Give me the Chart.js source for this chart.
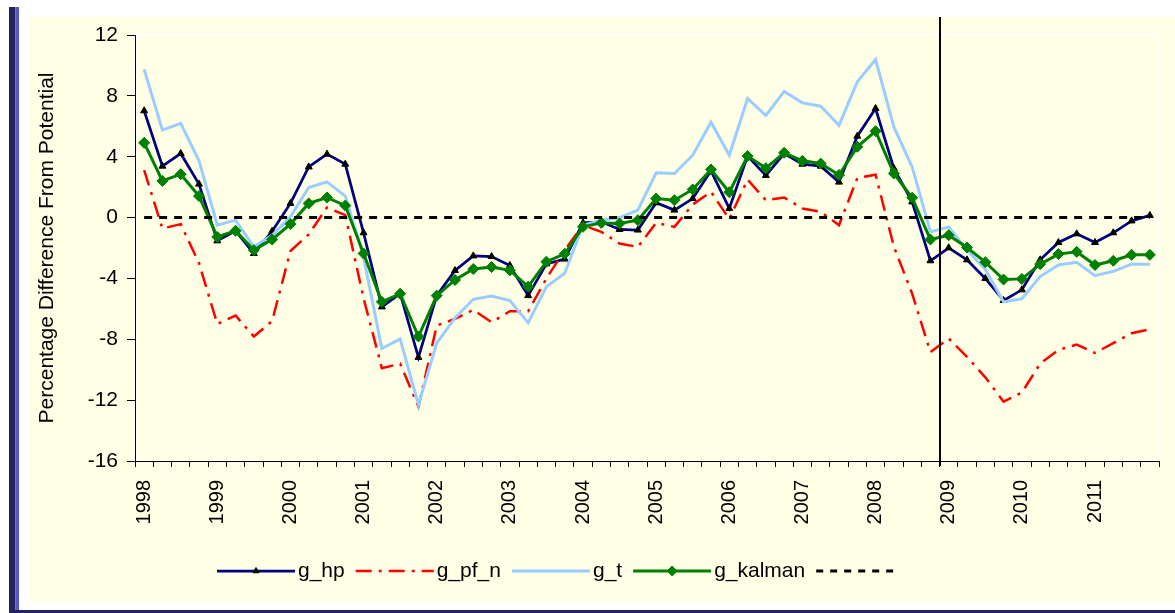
<!DOCTYPE html>
<html>
<head>
<meta charset="utf-8">
<script src="https://cdn.jsdelivr.net/npm/chart.js@4.4.1/dist/chart.umd.min.js"></script>
<style>
  html, body { margin: 0; padding: 0; background: #ffffff; }
  #wrap { position: relative; width: 1175px; height: 613px; }
</style>
</head>
<body>
<div id="wrap"><canvas id="c"></canvas></div>
<script>
// ---- Data (quarterly, 1998Q1 - 2011Q4) ----
const years = ['1998','1999','2000','2001','2002','2003','2004','2005','2006','2007','2008','2009','2010','2011'];
const quarters = [];
years.forEach(y => { for (let q = 1; q <= 4; q++) quarters.push(y + 'Q' + q); });

const g_hp = [
  7.02, 3.38, 4.21, 2.2, -1.53, -0.87, -2.36, -0.9, 0.93, 3.33, 4.17, 3.51, -1.0, -5.87,
  -5.0, -9.19, -5.13, -3.48, -2.52, -2.56, -3.15, -5.13, -3.04, -2.73, -0.35, -0.28, -0.78, -0.82,
  0.97, 0.49, 1.25, 3.07, 0.6, 4.04, 2.77, 4.21, 3.51, 3.38, 2.33, 5.35, 7.17, 3.23,
  1.03, -2.84, -1.99, -2.78, -4.0, -5.45, -4.75, -2.78, -1.64, -1.07, -1.64, -1.0, -0.22, 0.14
];
const g_pf_n = [
  3.12, -0.72, -0.43, -3.0, -6.99, -6.44, -7.82, -6.8, -2.2, -1.1, 0.66, 0.16, -5.3, -9.9,
  -9.6, -12.43, -7.1, -6.66, -6.07, -6.88, -6.16, -6.16, -4.0, -2.14, -0.5, -0.94, -1.71, -1.93,
  -0.35, -0.61, 0.86, 1.69, -0.1, 2.5, 1.14, 1.32, 0.6, 0.38, -0.5, 2.6, 2.82, -1.9,
  -5.0, -8.85, -7.95, -9.15, -10.5, -12.1, -11.5, -9.6, -8.7, -8.35, -8.9, -8.25, -7.6, -7.35
];
const g_t = [
  9.74, 5.75, 6.19, 3.73, -0.5, -0.17, -1.92, -1.16, 0.05, 1.98, 2.35, 1.41, -2.6, -8.61,
  -7.97, -12.3, -8.26, -6.6, -5.37, -5.15, -5.46, -6.92, -4.54, -3.66, -0.5, -0.17, 0.0, 0.49,
  2.94, 2.9, 4.1, 6.27, 4.1, 7.83, 6.71, 8.29, 7.54, 7.32, 6.07, 8.92, 10.39, 5.96,
  3.33, -0.94, -0.61, -2.14, -3.4, -5.54, -5.34, -3.88, -3.12, -2.94, -3.82, -3.53, -3.06, -3.06
];
const g_kalman = [
  4.91, 2.41, 2.85, 1.41, -1.27, -0.87, -2.14, -1.44, -0.43, 0.93, 1.32, 0.79, -2.36, -5.54,
  -5.0, -7.82, -5.13, -4.1, -3.38, -3.25, -3.47, -4.54, -2.9, -2.38, -0.61, -0.35, -0.39, -0.17,
  1.25, 1.14, 1.85, 3.16, 1.67, 4.04, 3.25, 4.26, 3.73, 3.55, 2.8, 4.65, 5.68, 2.9,
  1.3, -1.44, -1.16, -1.97, -2.93, -4.07, -4.03, -3.06, -2.4, -2.25, -3.12, -2.84, -2.45, -2.45
];
const zeroLine = quarters.map(() => 0);
const yTicks = { min: -16, max: 12, step: 4 };
const yTitle = 'Percentage Difference From Potential';
const markerQuarter = '2009Q1';

const FONT = "'Liberation Sans', Arial, sans-serif";
Chart.defaults.font.family = FONT;
Chart.defaults.color = '#000000';

const bgPlugin = {
  id: 'bg',
  beforeDraw(chart) {
    const ctx = chart.ctx;
    ctx.save();
    ctx.fillStyle = '#ffffff';
    ctx.fillRect(0, 0, chart.width, chart.height);
    ctx.fillStyle = '#FFFFE6';
    ctx.fillRect(29, 17, chart.width - 29, 602 - 17);
    ctx.fillStyle = '#23235F';
    ctx.fillRect(9, 7, 6.5, chart.height - 7);
    ctx.fillStyle = '#5656C4';
    ctx.fillRect(15.5, 7, 3.5, 603);
    ctx.fillStyle = '#23235F';
    ctx.fillRect(9, 610, chart.width - 9, 3);
    const a = chart.chartArea;
    ctx.strokeStyle = '#ffffff';
    ctx.lineWidth = 2;
    ctx.strokeRect(a.left, a.top, a.right - a.left, a.bottom - a.top);
    ctx.restore();
  },
  afterDatasetsDraw(chart) {
    const ctx = chart.ctx;
    const xs = chart.scales.x;
    const idx = quarters.indexOf(markerQuarter);
    const x = Math.round((xs.getPixelForValue(idx - 1) + xs.getPixelForValue(idx)) / 2);
    ctx.save();
    ctx.strokeStyle = '#000000';
    ctx.lineWidth = 2;
    ctx.beginPath();
    ctx.moveTo(x, 17);
    ctx.lineTo(x, chart.chartArea.bottom + 5);
    ctx.stroke();
    ctx.restore();
  },
  afterDraw(chart) {
    const ctx = chart.ctx;
    ctx.save();
    ctx.fillStyle = '#000';
    ctx.font = '21px ' + FONT;
    ctx.textAlign = 'center';
    ctx.textBaseline = 'middle';
    ctx.translate(47, 248);
    ctx.rotate(-Math.PI / 2);
    ctx.fillText(yTitle, 0, 0);
    ctx.restore();

    ctx.save();
    ctx.font = '21px ' + FONT;
    ctx.textBaseline = 'middle';
    ctx.textAlign = 'left';
    let x = 217;
    const y = 571;
    chart.data.datasets.forEach(ds => {
      const len = 78;
      ctx.save();
      ctx.strokeStyle = ds.borderColor;
      ctx.lineWidth = ds.borderWidth;
      ctx.setLineDash(ds.legendDash || ds.borderDash || []);
      ctx.beginPath();
      ctx.moveTo(x, y);
      ctx.lineTo(x + len, y);
      ctx.stroke();
      ctx.setLineDash([]);
      if (ds.pointRadius > 0) {
        ctx.fillStyle = ds.pointBackgroundColor;
        ctx.strokeStyle = ds.pointBorderColor;
        ctx.lineWidth = 1;
        Chart.helpers.drawPoint(ctx, {
          pointStyle: ds.pointStyle, radius: ds.pointRadius - 0.5, rotation: 0, borderWidth: 1
        }, x + len / 2, y);
      }
      ctx.restore();
      x += len + 3;
      if (ds.label) {
        ctx.fillStyle = '#000';
        ctx.fillText(ds.label, x, y);
        x += ctx.measureText(ds.label).width + 11;
      }
    });
    ctx.restore();
  }
};

new Chart(document.getElementById('c'), {
  type: 'line',
  data: {
    labels: quarters,
    datasets: [
      { label: 'g_hp', data: g_hp, borderColor: '#000080', borderWidth: 2.75,
        pointStyle: 'triangle', pointRadius: 4, pointBackgroundColor: '#000000',
        pointBorderColor: '#000000', pointBorderWidth: 1, order: 5 },
      { label: 'g_pf_n', data: g_pf_n, borderColor: '#FF0000', borderWidth: 2.5,
        borderDash: [16, 7, 3, 7], pointRadius: 0, order: 4 },
      { label: 'g_t', data: g_t, borderColor: '#99CCFF', borderWidth: 3,
        pointRadius: 0, order: 3 },
      { label: 'g_kalman', data: g_kalman, borderColor: '#008000', borderWidth: 3,
        pointStyle: 'rectRot', pointRadius: 5.5, pointBackgroundColor: '#008000',
        pointBorderColor: '#008000', pointBorderWidth: 1, order: 2 },
      { label: '', data: zeroLine, borderColor: '#000000', borderWidth: 3,
        borderDash: [8, 7], legendDash: [7, 7], pointRadius: 0, order: 1 }
    ]
  },
  options: {
    responsive: true,
    maintainAspectRatio: false,
    animation: false,
    devicePixelRatio: 1,
    layout: { padding: { left: 29, top: 35, right: 16, bottom: 0 } },
    elements: { line: { tension: 0, fill: false } },
    plugins: { legend: { display: false }, tooltip: { enabled: false }, title: { display: false } },
    scales: {
      x: {
        type: 'category',
        offset: true,
        grid: { display: true, offset: true, drawOnChartArea: false, drawTicks: true,
                tickLength: 6, color: '#000000', lineWidth: 1 },
        border: { display: true, color: '#000000', width: 1 },
        ticks: {
          autoSkip: false, minRotation: 90, maxRotation: 90, padding: 13,
          font: { size: 20, family: FONT }, color: '#000000',
          callback: function(v, i) { const q = quarters[i]; return q.endsWith('Q1') ? q.slice(0, 4) : ''; }
        },
        afterFit(scale) {
          scale.height = 152;
          scale.paddingLeft = 0; scale.paddingRight = 0; scale.paddingTop = 0; scale.paddingBottom = 0;
        }
      },
      y: {
        min: yTicks.min, max: yTicks.max,
        grid: { display: true, drawOnChartArea: false, drawTicks: true, tickLength: 8,
                color: '#000000', lineWidth: 1 },
        border: { display: true, color: '#000000', width: 1 },
        ticks: { stepSize: yTicks.step, padding: 9, font: { size: 21, family: FONT }, color: '#000000' },
        afterFit(scale) {
          scale.width = 106;
          scale.paddingLeft = 0; scale.paddingRight = 0; scale.paddingTop = 0; scale.paddingBottom = 0;
        }
      }
    }
  },
  plugins: [bgPlugin]
});
</script>
</body>
</html>
